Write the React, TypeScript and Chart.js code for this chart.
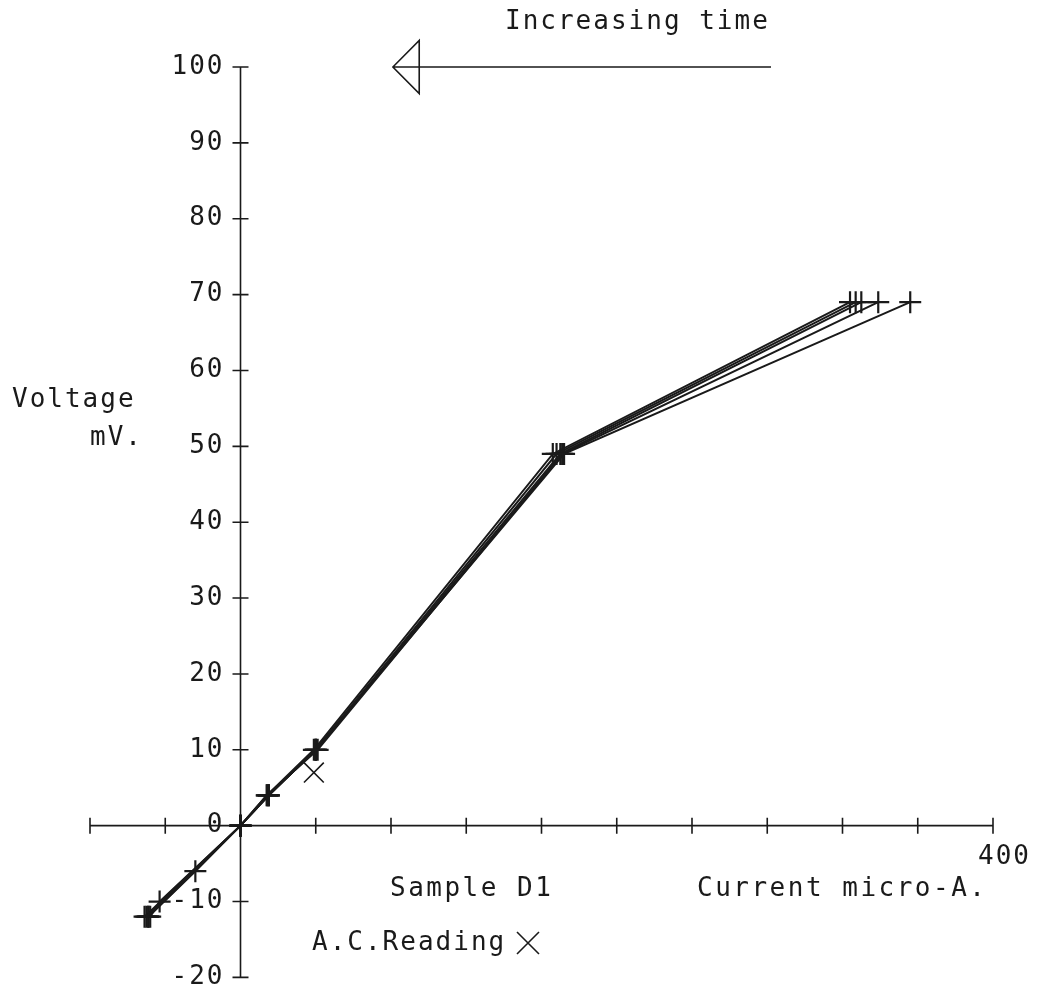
import React, { useEffect, useRef } from "react";
import { Chart, registerables } from "chart.js";

Chart.register(...registerables);

const X_MIN = -80;
const X_MAX = 400;
const Y_MIN = -20;
const Y_MAX = 100;
const X_TICKS = [-80, -40, 0, 40, 80, 120, 160, 200, 240, 280, 320, 360, 400];
const Y_TICKS = [-20, -10, 0, 10, 20, 30, 40, 50, 60, 70, 80, 90, 100];

// Five sweeps of current (micro-A) vs voltage (mV)
const run1X = [-50, 0, 14, 39, 166, 324];
const run1Y = [-12, 0, 4, 10, 49, 69];
const run2X = [-49, 0, 15, 40, 168, 327];
const run2Y = [-12, 0, 4, 10, 49, 69];
const run3X = [-48, -43, 0, 15, 40, 170, 330];
const run3Y = [-12, -10, 0, 4, 10, 49, 69];
const run4X = [-49, -24, 0, 14, 41, 171, 339];
const run4Y = [-12, -6, 0, 4, 10, 49, 69];
const run5X = [-51, 0, 15, 40, 172, 356];
const run5Y = [-12, 0, 4, 10, 49, 69];
const acX = [39];
const acY = [7];

// annotation arrow (data coordinates)
const ARROW_TIP_X = 81;
const ARROW_TAIL_X = 282;
const ARROW_BACK_X = 95;
const ARROW_Y = 100;
const ARROW_HALF = 3.5;

const pts = (xs: number[], ys: number[]) => xs.map((x, i) => ({ x, y: ys[i] }));

const INK = "#1a1a1a";
const FONT = "26px 'DejaVu Sans Mono'";

export default function App() {
  const ref = useRef<HTMLCanvasElement | null>(null);

  useEffect(() => {
    if (!ref.current) return;
    const mk = (xs: number[], ys: number[]) => ({
      data: pts(xs, ys),
      showLine: true,
      borderColor: INK,
      borderWidth: 2,
      pointStyle: "cross" as const,
      pointRadius: 11,
      pointBorderWidth: 2.2,
      pointBorderColor: INK,
      pointBackgroundColor: INK,
    });

    const axesPlugin = {
      id: "plotterAxes",
      afterDraw(chart: any) {
        const ctx = chart.ctx as CanvasRenderingContext2D;
        const xs = chart.scales.x;
        const ys = chart.scales.y;
        const x0 = xs.getPixelForValue(0);
        const y0 = ys.getPixelForValue(0);
        ctx.save();
        ctx.strokeStyle = INK;
        ctx.fillStyle = INK;
        ctx.lineWidth = 1.6;
        // x axis
        ctx.beginPath();
        ctx.moveTo(xs.getPixelForValue(X_MIN), y0);
        ctx.lineTo(xs.getPixelForValue(X_MAX), y0);
        for (const t of X_TICKS) {
          const px = xs.getPixelForValue(t);
          ctx.moveTo(px, y0 - 8);
          ctx.lineTo(px, y0 + 8);
        }
        // y axis
        ctx.moveTo(x0, ys.getPixelForValue(Y_MIN));
        ctx.lineTo(x0, ys.getPixelForValue(Y_MAX));
        for (const t of Y_TICKS) {
          const py = ys.getPixelForValue(t);
          ctx.moveTo(x0 - 8, py);
          ctx.lineTo(x0 + 8, py);
        }
        ctx.stroke();

        // arrow
        const tip = xs.getPixelForValue(ARROW_TIP_X);
        const tail = xs.getPixelForValue(ARROW_TAIL_X);
        const back = xs.getPixelForValue(ARROW_BACK_X);
        const ay = ys.getPixelForValue(ARROW_Y);
        const aTop = ys.getPixelForValue(ARROW_Y + ARROW_HALF);
        const aBot = ys.getPixelForValue(ARROW_Y - ARROW_HALF);
        ctx.beginPath();
        ctx.moveTo(tail, ay);
        ctx.lineTo(tip, ay);
        ctx.moveTo(tip, ay);
        ctx.lineTo(back, aTop);
        ctx.lineTo(back, aBot);
        ctx.closePath();
        ctx.stroke();

        // text
        ctx.font = FONT;
        (ctx as any).letterSpacing = "2px";
        ctx.textBaseline = "middle";
        ctx.textAlign = "right";
        for (const t of Y_TICKS) {
          ctx.fillText(String(t), x0 - 16, ys.getPixelForValue(t));
        }
        ctx.fillText("400", xs.getPixelForValue(X_MAX) + 38, 857);
        ctx.textAlign = "left";
        ctx.fillText("Increasing time", 505, 22);
        ctx.fillText("Voltage", 12, 400);
        ctx.fillText("mV.", 90, 438);
        (ctx as any).letterSpacing = "2.5px";
        ctx.fillText("Sample D1", 390, 889);
        ctx.fillText("Current micro-A.", 697, 889);
        (ctx as any).letterSpacing = "2px";
        ctx.fillText("A.C.Reading", 312, 943);
        // X marker beside the A.C. label
        ctx.beginPath();
        ctx.moveTo(517, 932);
        ctx.lineTo(539, 954);
        ctx.moveTo(539, 932);
        ctx.lineTo(517, 954);
        ctx.stroke();
        ctx.restore();
      },
    };

    const chart = new Chart(ref.current, {
      type: "scatter",
      data: {
        datasets: [
          mk(run1X, run1Y),
          mk(run2X, run2Y),
          mk(run3X, run3Y),
          mk(run4X, run4Y),
          mk(run5X, run5Y),
          {
            data: pts(acX, acY),
            showLine: false,
            pointStyle: "crossRot" as const,
            pointRadius: 14,
            pointBorderWidth: 1.6,
            pointBorderColor: INK,
          },
        ],
      },
      options: {
        animation: false,
        responsive: false,
        devicePixelRatio: 1,
        layout: { padding: { left: 90, right: 49, top: 67, bottom: 15 } },
        scales: {
          x: { type: "linear", min: X_MIN, max: X_MAX, display: false },
          y: { type: "linear", min: Y_MIN, max: Y_MAX, display: false },
        },
        plugins: { legend: { display: false }, tooltip: { enabled: false } },
      },
      plugins: [axesPlugin],
    });
    return () => chart.destroy();
  }, []);

  return (
    <div style={{ position: "fixed", left: 0, top: 0, width: 1042, height: 993, background: "#fff" }}>
      <canvas ref={ref} width={1042} height={993} />
    </div>
  );
}
